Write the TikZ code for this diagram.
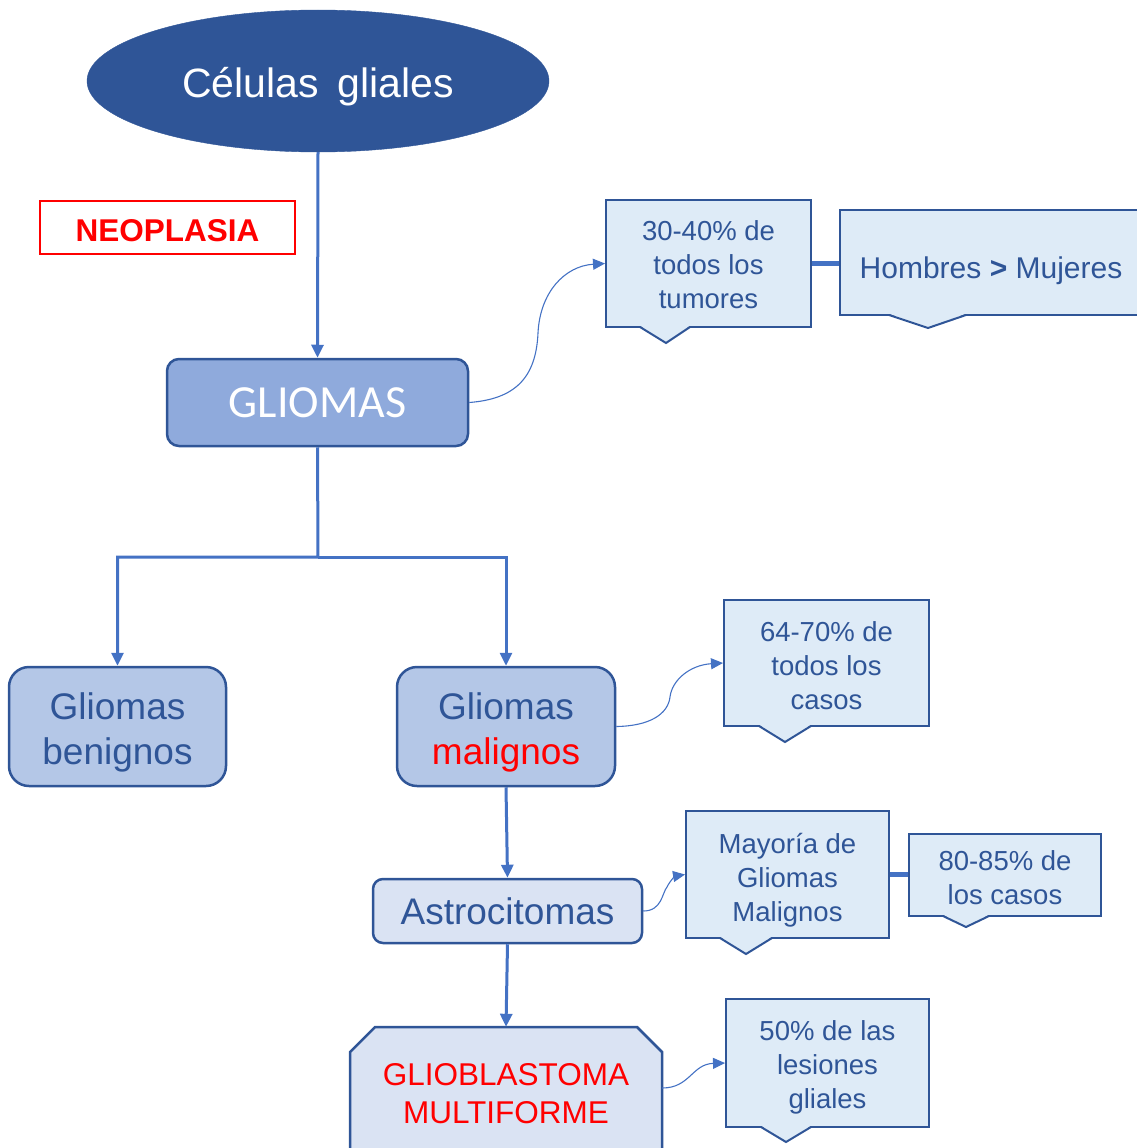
\documentclass[tikz,border=0pt]{standalone}
\usepackage{fontspec}
\setmainfont{Liberation Sans}
\newfontfamily\calib{Carlito}
\usetikzlibrary{shapes.geometric,arrows.meta,calc}
\definecolor{dkblue}{HTML}{2F5597}
\definecolor{arrblue}{HTML}{4472C4}
\definecolor{glfill}{HTML}{8FAADC}
\definecolor{midfill}{HTML}{B4C7E7}
\definecolor{ltfill}{HTML}{DAE3F3}
\definecolor{callfill}{HTML}{DEEBF7}
\definecolor{redtxt}{HTML}{FF0000}
\newcommand\tstr[1]{\rule{0pt}{#1pt}}
\newcommand\pointer[5]{%
  \fill[callfill] (#1,#4-1.3) -- (#3,#5) -- (#2,#4-1.3) -- cycle;
  \draw[dkblue,line width=2pt,line join=miter] (#1,#4) -- (#3,#5) -- (#2,#4);}
\begin{document}
\begin{tikzpicture}[x=1pt,y=-1pt,
  mainarrow/.style={draw=arrblue, line width=3pt, -{Triangle[length=13pt,width=12pt]}},
  curvearrow/.style={draw=arrblue, line width=1.1pt, -{Triangle[length=12pt,width=11pt]}},
  thickline/.style={draw=arrblue, line width=5pt},
  roundbox/.style={draw=dkblue, line width=2.5pt, rounded corners=#1, inner sep=0pt, align=center},
  callbox/.style={draw=dkblue, fill=callfill, line width=2pt, inner sep=0pt, align=center,
     text=dkblue, font=\fontsize{27.5}{34}\selectfont},
  bigtext/.style={font=\fontsize{37}{45}\selectfont}
]
\useasboundingbox (0,0) rectangle (1137,1148);
\clip (0,0) rectangle (1137,1148);

% top ellipse
\node[ellipse, fill=dkblue, draw=dkblue, minimum width=462pt, minimum height=142pt, inner sep=0pt,
      text=white, font=\fontsize{41}{48}\selectfont] (cell) at (318,81) {\tstr{41}Células\hspace{0.45em}gliales};

% neoplasia
\node[draw=redtxt, line width=2pt, minimum width=255pt, minimum height=53pt, inner sep=0pt,
      text=redtxt, font=\fontsize{31.5}{36}\selectfont\bfseries] (neo) at (167.5,227.5) {\tstr{27.5}NEOPLASIA};

% gliomas
\node[roundbox=12pt, fill=glfill, minimum width=301pt, minimum height=87pt,
      text=white, font=\calib\fontsize{46}{52}\selectfont] (gliomas) at (317.5,402.5) {GLIOMAS};

% benign / malign
\node[roundbox=20pt, fill=midfill, minimum width=217pt, minimum height=119pt, text=dkblue, bigtext]
   (benign) at (117.5,726.5) {\tstr{39.5}Gliomas\\benignos};
\node[roundbox=20pt, fill=midfill, minimum width=218pt, minimum height=119pt, text=dkblue, bigtext]
   (malign) at (506,726.5) {\tstr{39.5}Gliomas\\\textcolor{redtxt}{malignos}};

% astrocitomas
\node[roundbox=10pt, fill=ltfill, minimum width=269pt, minimum height=64pt, text=dkblue, bigtext]
   (astro) at (507.5,911) {Astrocitomas};

% glioblastoma (chamfered top corners)
\filldraw[fill=ltfill, draw=dkblue, line width=2.5pt, line join=miter]
   (350,1165) -- (350,1052) -- (375,1027) -- (637,1027) -- (662,1052) -- (662,1165);
\node[minimum width=312pt, minimum height=134pt, inner sep=0pt, align=center, text=redtxt,
      font=\fontsize{31.5}{38}\selectfont] (glio) at (506,1094) {GLIOBLASTOMA\\MULTIFORME};

% callouts
\node[callbox, minimum width=205pt, minimum height=127pt] (c1) at (708.5,263.5)
   {\tstr{23}30-40\% de\\todos los\\tumores};
\pointer{640}{690}{666}{327}{343}
\node[callbox, minimum width=302pt, minimum height=105pt, font=\fontsize{30}{36}\selectfont]
   (c2) at (991,262.5) {\tstr{38}Hombres \textbf{>} Mujeres};
\pointer{889}{966}{928}{315}{328}

\node[callbox, minimum width=205pt, minimum height=126pt] (c3) at (826.5,663)
   {\tstr{26}64-70\% de\\todos los\\casos};
\pointer{759}{811}{785}{726}{742}

\node[callbox, minimum width=203pt, minimum height=127pt] (c4) at (787.5,874.5)
   {\tstr{32}Mayoría de\\Gliomas\\Malignos};
\pointer{720}{772}{746}{938}{954}

\node[callbox, minimum width=192pt, minimum height=82pt] (c5) at (1005,875)
   {\tstr{25}80-85\% de\\los casos};
\pointer{943}{989}{966}{916}{927}

\node[callbox, minimum width=203pt, minimum height=128pt] (c6) at (827.5,1063)
   {\tstr{28}50\% de las\\lesiones\\gliales};
\pointer{761}{811}{786}{1127}{1142}

% main connectors
\draw[mainarrow] (cell.south) -- (gliomas.north);
\coordinate (split) at (318,557);
\draw[mainarrow] (gliomas.south) -- (split) -| (benign.north);
\draw[mainarrow] (split) -| (malign.north);
\draw[mainarrow] (malign.south) -- (astro.north);
\draw[mainarrow] (astro.south) -- (glio.north);

% thick links between callouts
\draw[thickline] (c1.east) -- (c1.east -| c2.west);
\draw[thickline] (c4.east) -- (c4.east -| c5.west);

% curved connectors
\draw[curvearrow] (gliomas.east) .. controls (515,399) and (536,378) .. (538,333)
   .. controls (540,292) and (565,266) .. (c1.west);
\draw[curvearrow] (malign.east) .. controls (650,726) and (668,714) .. (670,697)
   .. controls (672,680) and (690,665) .. (c3.west);
\draw[curvearrow] (astro.east) .. controls (662,911) and (662,893) .. (667,887)
   .. controls (671,879) and (676,876) .. (c4.west);
\draw[curvearrow] ($(glio.east)+(0,-6)$) .. controls (690,1088) and (692,1064) .. (c6.west);
\end{tikzpicture}
\end{document}
